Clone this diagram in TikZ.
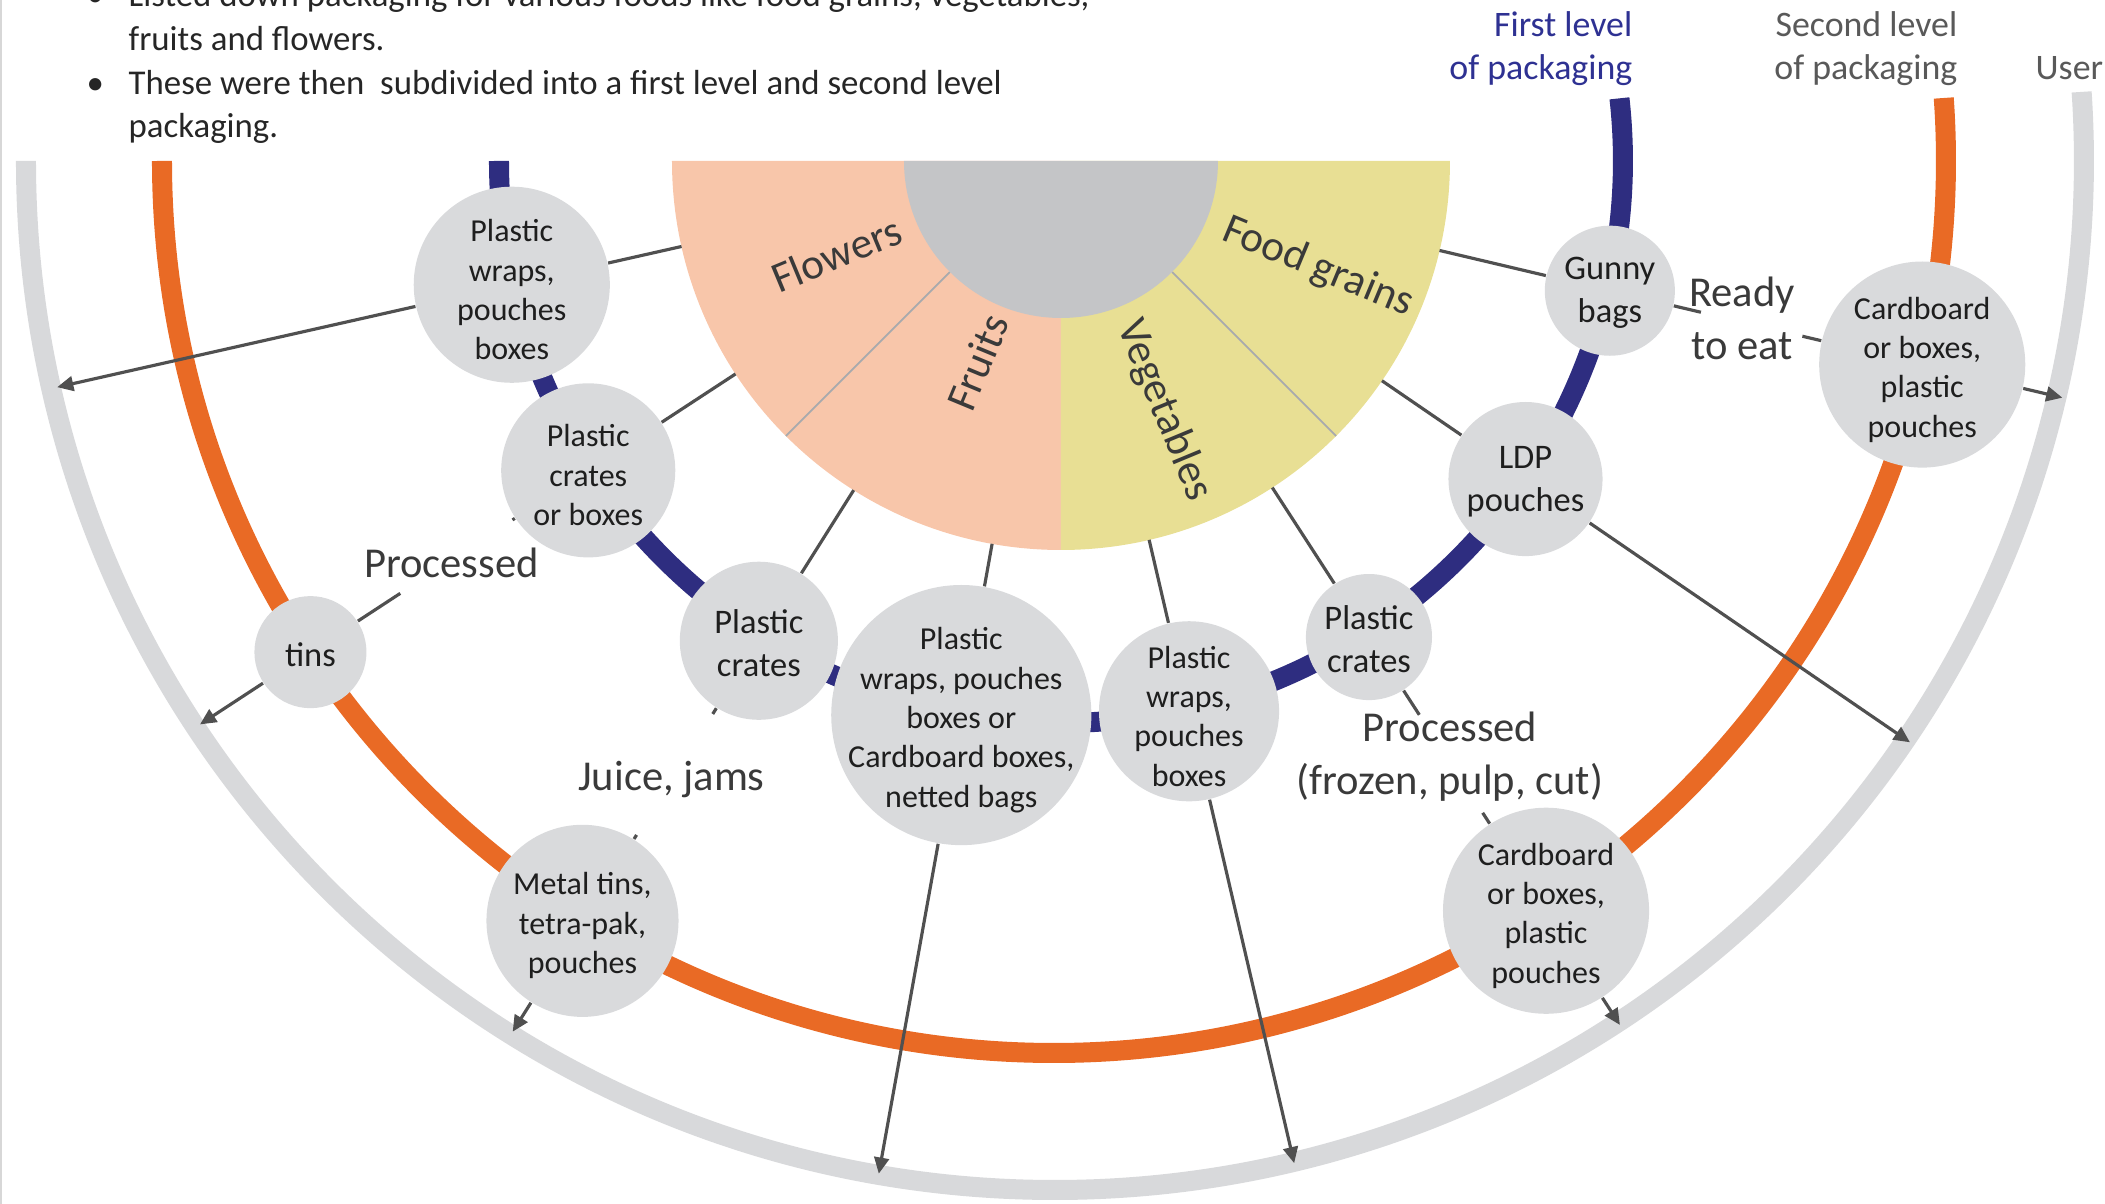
\documentclass[tikz,border=0pt]{standalone}
\usepackage{fontspec}
\setmainfont{Carlito}
\usetikzlibrary{arrows.meta}
\definecolor{navyc}{RGB}{46,45,128}
\definecolor{orangec}{RGB}{233,106,37}
\definecolor{bandgray}{RGB}{216,217,219}
\definecolor{nodegray}{RGB}{217,218,220}
\definecolor{salmonc}{RGB}{248,198,170}
\definecolor{yellowc}{RGB}{232,223,148}
\definecolor{innergray}{RGB}{196,197,199}
\definecolor{divgray}{RGB}{168,170,173}
\definecolor{conncol}{RGB}{80,80,80}
\definecolor{nodetext}{RGB}{30,30,30}
\definecolor{lbltext}{RGB}{58,58,58}
\definecolor{toptextc}{RGB}{38,38,38}
\definecolor{navytext}{RGB}{46,49,146}
\definecolor{graytext}{RGB}{89,89,89}
\definecolor{edgegray}{RGB}{215,215,215}
\begin{document}
\begin{tikzpicture}[x=0.01cm, y=0.01cm,
  band/.style={line width=0.2cm},
  pkg/.style={circle, fill=nodegray, inner sep=0pt},
  ntext/.style={align=center, text=nodetext, inner sep=0pt, yshift=-0.05cm, font=\fontsize{9.1}{11.2}\selectfont},
  ntextS/.style={align=center, text=nodetext, inner sep=0pt, yshift=-0.025cm, font=\fontsize{9.8}{12.2}\selectfont},
  gap/.style={rectangle, inner sep=0pt},
  conn/.style={draw=conncol, line width=0.9pt},
  arr/.style={conn, -{Triangle[length=4.6pt, width=4.2pt]}},
  lbl/.style={text=lbltext, inner sep=0pt, anchor=base, font=\fontsize{12.1}{14.9}\selectfont},
  pielbl/.style={text=lbltext, inner sep=0pt, font=\fontsize{12.3}{14.8}\selectfont},
  lvl/.style={inner sep=0pt, font=\fontsize{10.2}{12.2}\selectfont},
  toptxt/.style={text=toptextc, inner sep=0pt, anchor=base west, font=\fontsize{9.9}{12.4}\selectfont}
]
\useasboundingbox (-1061,-1043) rectangle (1044,161);
\begin{scope}
\clip (-1061,-1043) rectangle (1044,161);

% left edge line
\draw[edgegray, line width=0.02cm] (-1060,161) -- (-1060,-1043);

% level arcs
\draw[band, bandgray] (-1035,0) arc[start angle=180, end angle=363.85, radius=1029];
\draw[band, orangec] (-899,0) arc[start angle=180, end angle=364.05, radius=892];
\draw[band, navyc] (-562,0) arc[start angle=180, end angle=366.4, radius=562];

% food half disc
\fill[salmonc] (0,0) -- (-389,0) arc[start angle=180, end angle=270, radius=389] -- cycle;
\fill[yellowc] (0,0) -- (0,-389) arc[start angle=270, end angle=360, radius=389] -- cycle;
\draw[divgray, line width=0.5pt] (225:157) -- (225:389) (315:157) -- (315:389);
\fill[innergray] (-157,0) arc[start angle=180, end angle=360, radius=157] -- cycle;

\node[pielbl, rotate=22.5] (lflo) at (202.5:243) {Flowers};
\node[pielbl, rotate=67.5] (lfru) at (247.5:218) {Fruits};
\node[pielbl, rotate=-67.5] (lveg) at (292.5:270) {Vegetables};
\node[pielbl, rotate=-22.5] (lfood) at (337.5:278) {Food grains};

% connector ends
\foreach \n/\a in {A/192.7, B/213.2, C/237.8, D/259.8, E/283.1, F/302.9, G/325.6, H/346.7} {
  \coordinate (p\n) at (\a:389);
  \coordinate (q\n) at (\a:1029);
}

% packaging nodes
\node[pkg, minimum size=1.96cm, label={[ntext]center:{Plastic\\wraps,\\pouches\\boxes}}] (n1) at (192.7:563) {};
\node[pkg, minimum size=1.74cm, label={[ntext]center:{Plastic\\crates\\or boxes}}] (n2) at (213.2:565) {};
\node[pkg, minimum size=1.12cm, label={[ntextS]center:tins}] (tins) at (213.2:897) {};
\node[pkg, minimum size=1.58cm, label={[ntextS]center:{Plastic\\crates}}] (n4) at (237.8:567) {};
\node[pkg, minimum size=1.92cm, label={[ntext]center:{Metal tins,\\tetra-pak,\\pouches}}] (n11) at (237.8:898) {};
\node[pkg, minimum size=2.6cm, label={[ntext]center:{Plastic\\wraps, pouches\\boxes or\\Cardboard boxes,\\netted bags}}] (n5) at (259.8:563) {};
\node[pkg, minimum size=1.8cm, label={[ntext]center:{Plastic\\wraps,\\pouches\\boxes}}] (n6) at (283.1:565) {};
\node[pkg, minimum size=1.26cm, label={[ntextS]center:{Plastic\\crates}}] (n7) at (302.9:567) {};
\node[pkg, minimum size=2.06cm, label={[ntext]center:{Cardboard\\or boxes,\\plastic\\pouches}}] (n12) at (302.9:893) {};
\node[pkg, minimum size=1.54cm, label={[ntextS]center:{LDP\\pouches}}] (n9) at (325.6:563) {};
\node[pkg, minimum size=1.3cm, label={[ntextS]center:{Gunny\\bags}}] (n8) at (346.7:564) {};
\node[pkg, minimum size=2.06cm, label={[ntext]center:{Cardboard\\or boxes,\\plastic\\pouches}}] (n10) at (346.7:885) {};

% label gaps on the connectors
\node[gap, minimum width=1.4cm, minimum height=0.72cm] (gB) at (213.2:722.6) {};
\node[gap, minimum width=1.9cm, minimum height=1.195cm] (gC) at (237.8:725) {};
\node[gap, minimum width=2.0cm, minimum height=0.965cm] (gF) at (302.9:718) {};
\node[gap, minimum width=1.0cm, minimum height=0.9cm] (gH) at (346.7:709.7) {};

% connectors
\draw[arr] (pA) -- (n1) -- (qA);
\draw[arr] (pB) -- (n2) -- (gB) -- (tins) -- (qB);
\draw[arr] (pC) -- (n4) -- (gC) -- (n11) -- (qC);
\draw[arr] (pD) -- (n5) -- (qD);
\draw[arr] (pE) -- (n6) -- (qE);
\draw[arr] (pF) -- (n7) -- (gF) -- (n12) -- (qF);
\draw[arr] (pG) -- (n9) -- (qG);
\draw[arr] (pH) -- (n8) -- (gH) -- (n10) -- (qH);

% connector labels
\node[lbl] (tB) at (-609.5,-417) {Processed};
\node[lbl] (tC) at (-389.5,-630) {Juice, jams};
\node[lbl] (tF) at (389,-581) {\begin{tabular}[t]{@{}c@{}}Processed\\(frozen, pulp, cut)\end{tabular}};
\node[lbl] (tH) at (681,-146) {\begin{tabular}[t]{@{}c@{}}Ready\\to eat\end{tabular}};

% level titles
\node[lvl, text=navytext, anchor=base east] (lvl1) at (572,124) {\begin{tabular}[t]{@{}r@{}}First level\\of packaging\end{tabular}};
\node[lvl, text=graytext, anchor=base east] (lvl2) at (897,124) {\begin{tabular}[t]{@{}r@{}}Second level\\of packaging\end{tabular}};
\node[lvl, text=graytext, anchor=base west] (lvl3) at (974,81) {User};

% bullet text
\node[toptxt] (para) at (-933,154) {\begin{tabular}[t]{@{}l@{}}Listed down packaging for various foods like food grains, vegetables,\\fruits and flowers.\\These were then\ \ subdivided into a first level and second level\\packaging.\end{tabular}};
\node[toptxt] (bul1) at (-975,154) {•};
\node[toptxt] (bul2) at (-975,66.8) {•};
\end{scope}
\end{tikzpicture}
\end{document}
